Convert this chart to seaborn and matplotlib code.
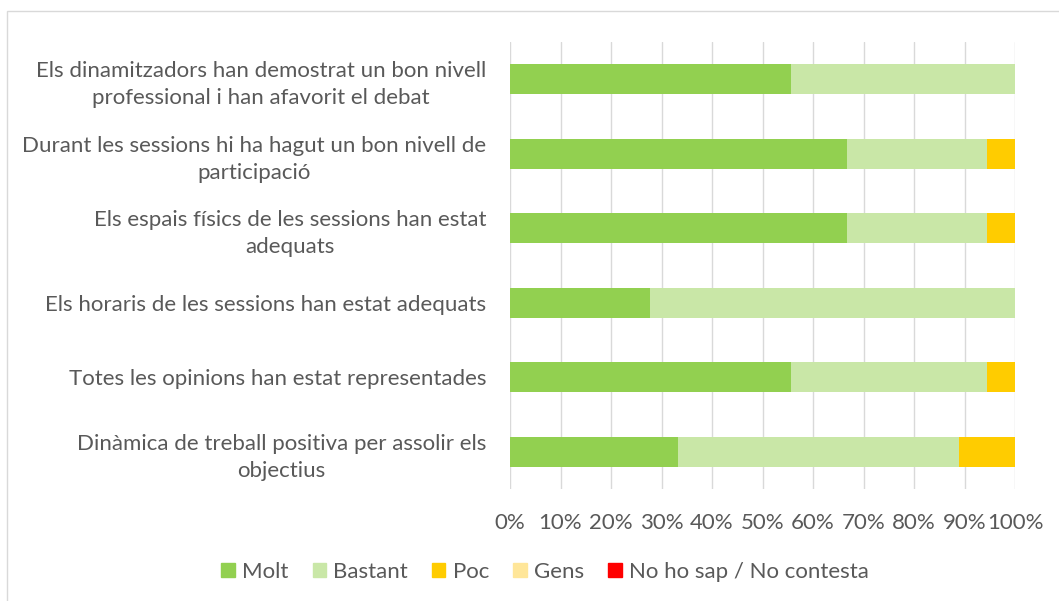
import matplotlib
matplotlib.use("Agg")
import matplotlib.pyplot as plt
import matplotlib.patches as mpatches
import seaborn as sns
import pandas as pd
import numpy as np

categories = [
    "Els dinamitzadors han demostrat un bon nivell\nprofessional i han afavorit el debat",
    "Durant les sessions hi ha hagut un bon nivell de\nparticipació",
    "Els espais físics de les sessions han estat\nadequats",
    "Els horaris de les sessions han estat adequats",
    "Totes les opinions han estat representades",
    "Dinàmica de treball positiva per assolir els\nobjectius",
]
series_names = ["Molt", "Bastant", "Poc", "Gens", "No ho sap / No contesta"]
molt = [55.6, 66.7, 66.7, 27.8, 55.6, 33.3]
bastant = [44.4, 27.8, 27.8, 72.2, 38.9, 55.6]
poc = [0.0, 5.5, 5.5, 0.0, 5.5, 11.1]
gens = [0.0, 0.0, 0.0, 0.0, 0.0, 0.0]
nsnc = [0.0, 0.0, 0.0, 0.0, 0.0, 0.0]
colors = ["#92D050", "#C9E7A7", "#FFCC00", "#FFE699", "#FF0000"]
xtick_vals = list(range(0, 101, 10))
xtick_labels = [f"{v}%" for v in xtick_vals]

sns.set_theme(style="white")
plt.rcParams["font.family"] = ["Lato", "DejaVu Sans"]
text_color = "#595959"

fig = plt.figure(figsize=(10.59, 6.01), dpi=100)
ax = fig.add_axes([510/1059, 1-489/601, 505/1059, 447/601])

data = [molt, bastant, poc, gens, nsnc]
cum = np.cumsum(np.array(data), axis=0)
df_base = pd.DataFrame({"cat": categories})
for i in range(len(series_names) - 1, -1, -1):
    if sum(data[i]) == 0:
        continue
    d = df_base.copy()
    d["val"] = cum[i]
    sns.barplot(data=d, x="val", y="cat", orient="h", color=colors[i],
                width=0.4, saturation=1, linewidth=0, ax=ax, order=categories)

ax.set_xlim(0, 100)
ax.set_ylim(len(categories) - 0.5, -0.5)
ax.set_xticks(xtick_vals)
ax.set_xticklabels(xtick_labels)
ax.set_xlabel("")
ax.set_ylabel("")
ax.xaxis.grid(True, color="#D9D9D9", linewidth=1)
ax.set_axisbelow(True)
for s in ax.spines.values():
    s.set_visible(False)
ax.tick_params(axis="both", length=0, labelsize=16, colors=text_color)
ax.tick_params(axis="x", pad=17)
ax.tick_params(axis="y", pad=17)
for lbl in ax.get_yticklabels():
    lbl.set_multialignment("center")
    lbl.set_linespacing(1.45)

handles = [mpatches.Patch(color=c, label=n) for c, n in zip(colors, series_names)]
leg = fig.legend(handles=handles, loc="center", bbox_to_anchor=(545/1059, 1-572/601),
                 ncol=5, frameon=False, fontsize=16, handlelength=0.6, handleheight=0.6,
                 handletextpad=0.32, columnspacing=1.1)
for t in leg.get_texts():
    t.set_color(text_color)

fig.patches.append(mpatches.Rectangle((7/1059, -0.01), 1.1, 1-11/601 + 0.01,
                                      transform=fig.transFigure, fill=False,
                                      edgecolor="#D9D9D9", linewidth=1))

fig.savefig("out.png", dpi=100)
